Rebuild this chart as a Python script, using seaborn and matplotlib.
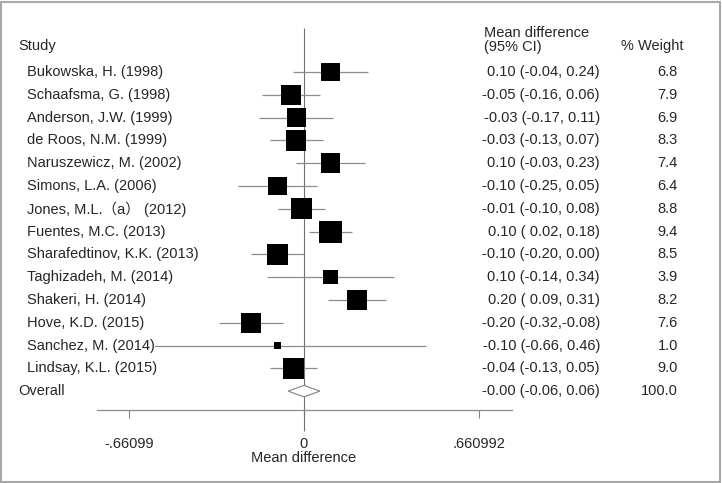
import matplotlib
matplotlib.use("Agg")
import matplotlib.pyplot as plt
import seaborn as sns
import pandas as pd
from matplotlib.patches import Polygon, Rectangle

studies = ['Bukowska, H. (1998)', 'Schaafsma, G. (1998)', 'Anderson, J.W. (1999)',
           'de Roos, N.M. (1999)', 'Naruszewicz, M. (2002)', 'Simons, L.A. (2006)',
           'Jones, M.L.（a） (2012)', 'Fuentes, M.C. (2013)', 'Sharafedtinov, K.K. (2013)',
           'Taghizadeh, M. (2014)', 'Shakeri, H. (2014)', 'Hove, K.D. (2015)',
           'Sanchez, M. (2014)', 'Lindsay, K.L. (2015)']
md = [0.10, -0.05, -0.03, -0.03, 0.10, -0.10, -0.01, 0.10, -0.10, 0.10, 0.20, -0.20, -0.10, -0.04]
lo = [-0.04, -0.16, -0.17, -0.13, -0.03, -0.25, -0.10, 0.02, -0.20, -0.14, 0.09, -0.32, -0.66, -0.13]
hi = [0.24, 0.06, 0.11, 0.07, 0.23, 0.05, 0.08, 0.18, 0.00, 0.34, 0.31, -0.08, 0.46, 0.05]
ci_text = ['0.10 (-0.04, 0.24)', '-0.05 (-0.16, 0.06)', '-0.03 (-0.17, 0.11)',
           '-0.03 (-0.13, 0.07)', '0.10 (-0.03, 0.23)', '-0.10 (-0.25, 0.05)',
           '-0.01 (-0.10, 0.08)', '0.10 ( 0.02, 0.18)', '-0.10 (-0.20, 0.00)',
           '0.10 (-0.14, 0.34)', '0.20 ( 0.09, 0.31)', '-0.20 (-0.32,-0.08)',
           '-0.10 (-0.66, 0.46)', '-0.04 (-0.13, 0.05)']
weight = [6.8, 7.9, 6.9, 8.3, 7.4, 6.4, 8.8, 9.4, 8.5, 3.9, 8.2, 7.6, 1.0, 9.0]
overall_md, overall_lo, overall_hi = -0.00, -0.06, 0.06
overall_text = '-0.00 (-0.06, 0.06)'
overall_weight = '100.0'
ticks = [-0.66099, 0, 0.660992]
tick_labels = ['-.66099', '0', '.660992']

df = pd.DataFrame({'study': studies, 'md': md, 'lo': lo, 'hi': hi, 'w': weight})
df['row'] = range(len(df))
overall_row = len(df)

sns.set_style('white')
plt.rcParams['font.family'] = ['Liberation Sans', 'Noto Sans CJK SC', 'DejaVu Sans']
fs = 10.5

fig = plt.figure(figsize=(7.22, 4.83), dpi=100)
ax = fig.add_axes([0, 0, 1, 1])
ax.set_xlim(-1.148, 1.5785)
ax.set_ylim(18.03, -3.158)

# zero line
ax.vlines(0, -1.93, 15.75, color='#707070', lw=0.8, zorder=1)
# confidence intervals
ax.hlines(df['row'], df['lo'], df['hi'], color='#8c8c8c', lw=0.9, zorder=1)
# squares, area proportional to weight
a = 26.9
sns.scatterplot(data=df, x='md', y='row', size='w', sizes=(a * min(weight), a * max(weight)),
                size_norm=(min(weight), max(weight)), marker='s', color='black',
                linewidth=0, legend=False, ax=ax, zorder=3)
# overall diamond
dh = 0.25
ax.add_patch(Polygon([(overall_lo, overall_row), (overall_md, overall_row - dh),
                      (overall_hi, overall_row), (overall_md, overall_row + dh)],
                     closed=True, facecolor='white', edgecolor='#808080', lw=0.8, zorder=3))

# x axis
for s in ['top', 'right', 'left']:
    ax.spines[s].set_visible(False)
ax.spines['bottom'].set_position(('data', 14.82))
ax.spines['bottom'].set_bounds(-0.78, 0.785)
ax.spines['bottom'].set_color('#8c8c8c')
ax.spines['bottom'].set_linewidth(0.9)
ax.xaxis.set_ticks_position('bottom')
ax.set_xticks(ticks)
ax.set_xticklabels(tick_labels, fontsize=fs)
ax.tick_params(axis='x', direction='out', length=5.5, width=0.8, color='#808080', pad=14)
ax.set_yticks([])
ax.set_ylabel('')
ax.set_xlabel('Mean difference', fontsize=fs, labelpad=1)
ax.xaxis.set_label_coords((0 + 1.148) / (1.5785 + 1.148), 0.066)

tr = ax.get_yaxis_transform()
ax.text(0.025, -1.14, 'Study', transform=tr, fontsize=fs, va='center', ha='left')
ax.text(0.670, -1.71, 'Mean difference', transform=tr, fontsize=fs, va='center', ha='left')
ax.text(0.670, -1.10, '(95% CI)', transform=tr, fontsize=fs, va='center', ha='left')
ax.text(0.946, -1.14, '% Weight', transform=tr, fontsize=fs, va='center', ha='right')
for i in range(len(df)):
    ax.text(0.0374, i, studies[i], transform=tr, fontsize=fs, va='center', ha='left',
            bbox=dict(facecolor='white', edgecolor='none', pad=0), zorder=2)
    ax.text(0.831, i, ci_text[i], transform=tr, fontsize=fs, va='center', ha='right')
    ax.text(0.939, i, f'{weight[i]:.1f}', transform=tr, fontsize=fs, va='center', ha='right')
ax.text(0.025, overall_row, 'Overall', transform=tr, fontsize=fs, va='center', ha='left')
ax.text(0.831, overall_row, overall_text, transform=tr, fontsize=fs, va='center', ha='right')
ax.text(0.939, overall_row, overall_weight, transform=tr, fontsize=fs, va='center', ha='right')

# frame around the picture
fig.add_artist(Rectangle((0.002, 0.003), 0.995, 0.992, transform=fig.transFigure,
                         fill=False, edgecolor='#a8a8a8', lw=1.5))

fig.savefig('out.png', dpi=100)
